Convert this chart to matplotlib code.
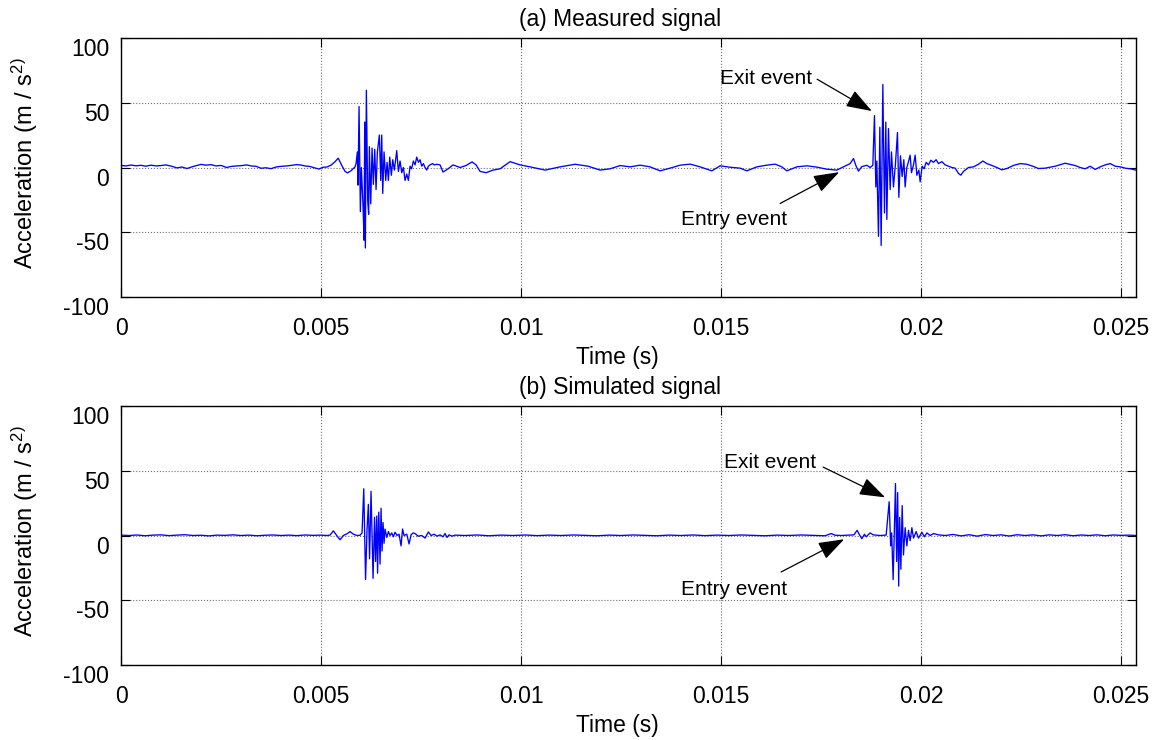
import numpy as np
import matplotlib
matplotlib.use("Agg")
import matplotlib.pyplot as plt

plt.rcParams["font.family"] = ["Liberation Sans", "DejaVu Sans"]
plt.rcParams["mathtext.fontset"] = "custom"
plt.rcParams["mathtext.rm"] = "Liberation Sans"
plt.rcParams["mathtext.it"] = "Liberation Sans:italic"

# ---- measured accelerometer signal (time in ms, acceleration in m/s^2) ----
measured_time_ms = [
    0.00, 0.12, 0.25, 0.38, 0.50, 0.62, 0.75, 0.88, 1.00, 1.12, 1.25, 1.40, 1.52, 1.65,
    1.78, 1.90, 2.00, 2.12, 2.25, 2.38, 2.50, 2.64, 2.75, 2.88, 3.00, 3.14, 3.25, 3.38,
    3.50, 3.62, 3.75, 3.88, 4.00, 4.14, 4.25, 4.38, 4.48, 4.60, 4.72, 4.85, 4.95, 5.05,
    5.15, 5.25, 5.35, 5.43, 5.52, 5.60, 5.66, 5.75, 5.85,
    5.875, 5.908, 5.925, 5.950, 5.983, 6.008, 6.050, 6.075, 6.092, 6.108, 6.133, 6.167,
    6.190, 6.208, 6.242, 6.275, 6.308, 6.342, 6.375, 6.408, 6.458, 6.492, 6.517, 6.542,
    6.575, 6.617, 6.650, 6.683, 6.717, 6.758, 6.792, 6.833, 6.892, 6.933, 6.975, 7.017,
    7.058, 7.100, 7.142, 7.183, 7.225, 7.263, 7.308, 7.350, 7.392, 7.433, 7.475, 7.517,
    7.558, 7.600, 7.642, 7.683, 7.725, 7.783, 7.833, 7.892, 7.975, 8.050, 8.175, 8.300,
    8.475, 8.625, 8.775, 8.875, 8.975, 9.125, 9.300, 9.475,
    9.725, 9.975, 10.225, 10.600, 10.975, 11.350, 11.675, 11.975, 12.225, 12.475, 12.725,
    12.975, 13.225, 13.475, 13.725, 13.975, 14.225, 14.475, 14.767, 14.975, 15.225,
    15.475, 15.642, 15.892, 16.142, 16.350, 16.517, 16.642, 16.892, 17.142, 17.392,
    17.642, 17.892, 18.058, 18.225, 18.308, 18.375, 18.433, 18.517, 18.642, 18.725,
    18.792,
    18.833, 18.867, 18.892, 18.933, 18.967, 19.000, 19.042, 19.083, 19.117, 19.142,
    19.183, 19.225, 19.258, 19.308, 19.358, 19.408, 19.442, 19.483, 19.525, 19.567,
    19.600, 19.642, 19.683, 19.725, 19.758, 19.808, 19.850, 19.892, 19.942, 19.975,
    20.025, 20.075, 20.125, 20.183, 20.242, 20.308, 20.375, 20.433, 20.517, 20.600,
    20.683, 20.767, 20.850, 20.933, 20.992, 21.058, 21.183, 21.308, 21.433, 21.542,
    21.642, 21.767, 21.892, 22.017, 22.142, 22.308, 22.475, 22.642, 22.808, 22.933,
    23.100, 23.350, 23.600, 23.850, 23.975, 24.100, 24.225, 24.350, 24.475, 24.600,
    24.725, 24.850, 24.975, 25.100, 25.225, 25.367,
]
measured_accel = [
    1.6, 1.2, 1.9, 1.3, 1.7, 1.0, 1.8, 1.2, 1.5, 2.0, 1.1, -0.3, 0.4, -0.8,
    0.6, 1.6, 2.4, 1.8, 2.2, 1.2, 1.6, 0.0, 0.8, 1.2, 1.4, 2.0, 1.2, 0.9,
    -0.6, -0.2, -0.9, 0.4, 0.9, 1.2, 1.6, 2.2, 2.0, 1.2, 0.8, -0.4, -1.2, 0.2,
    0.4, 1.8, 4.5, 7.2, 1.5, -3.0, -4.2, -2.5, 0.5,
    3.0, 12.0, -13.6, 47.0, -34.0, 0.0, -30.0, -56.0, 35.0, -62.0, 59.5, -26.0,
    -36.0, 16.0, -28.0, 15.0, -13.0, 14.0, -17.0, 12.0, 25.0, -10.0, 25.0, -20.0,
    12.0, -10.0, 4.0, -10.0, 8.0, -6.0, 6.0, -2.0, 13.0, -3.0, 5.0, -4.0,
    0.0, -10.0, -5.0, -10.0, 1.0, -1.0, 5.0, 2.0, 8.0, 4.0, 6.0, 1.0,
    3.0, 0.0, -2.0, 1.0, 2.0, 3.0, 2.0, 2.5, 2.0, -3.5, -1.0, 2.0,
    0.0, 1.5, 4.3, 2.0, -3.0, -4.0, -2.0, -1.0,
    4.5, 2.0, 0.5, -2.0, 0.5, 2.5, 1.0, -2.0, -1.0, 1.5, 0.5,
    1.8, 0.5, -2.6, -0.5, 1.8, 2.6, 0.5, -2.6, 1.3, 0.2,
    -0.5, -2.6, 0.5, 1.8, 2.6, 0.5, -2.6, 0.5, 1.3, 0.3,
    -1.3, -2.0, 0.5, 3.0, 6.9, 1.0, -2.8, 0.7, 1.7, 0.0,
    1.7,
    40.0, -15.0, 5.0, -53.0, 31.0, -60.0, 64.0, -35.0, 35.0, -40.0,
    30.0, -17.0, 12.0, -15.0, 3.0, 27.0, -23.0, 9.0, -7.0, 6.0,
    -15.0, 0.0, 4.5, 9.5, -4.0, 2.0, 9.5, -6.0, -2.0, -11.0,
    1.0, -1.0, 4.0, 2.0, 5.6, 4.0, 6.0, 3.0, 4.5, 2.0,
    1.0, 0.0, -0.5, -4.6, -5.9, -3.0, 0.0, 0.5, 2.5, 5.0,
    3.0, 1.6, 0.0, -1.8, -0.8, 1.6, 3.0, 2.5, 0.8, -0.8,
    -0.5, 1.0, 3.3, 1.5, 0.0, -1.0, 1.0, -1.5, 0.5, 2.0,
    3.0, 1.0, 0.5, -0.5, -1.0, -2.0,
]

# ---- simulated signal ----
simulated_time_ms = [
    0.0, 0.2, 0.4, 0.6, 0.8, 1.0, 1.2, 1.4, 1.6, 1.8, 2.0, 2.2, 2.4, 2.6, 2.8, 3.0,
    3.2, 3.4, 3.6, 3.8, 4.0, 4.2, 4.4, 4.6, 4.8, 5.0, 5.15, 5.225, 5.308, 5.392,
    5.475, 5.558, 5.642, 5.725, 5.808, 5.900, 5.975,
    6.025, 6.068, 6.113, 6.150, 6.183, 6.213, 6.250, 6.300, 6.338, 6.363, 6.393,
    6.413, 6.443, 6.475, 6.500, 6.525, 6.550, 6.575, 6.600, 6.643, 6.683, 6.725,
    6.768, 6.808, 6.850, 6.900, 6.950, 7.000, 7.038, 7.075, 7.143, 7.200, 7.250,
    7.300, 7.350, 7.425, 7.518, 7.600, 7.683, 7.750, 7.825, 7.900, 7.975, 8.050,
    8.100, 8.150, 8.200, 8.275, 8.350,
    8.6, 8.9, 9.2, 9.5, 9.8, 10.1, 10.4, 10.7, 11.0, 11.3, 11.6, 11.9, 12.2, 12.5,
    12.8, 13.1, 13.4, 13.7, 14.0, 14.3, 14.6, 14.9, 15.2, 15.5, 15.8, 16.1, 16.4,
    16.7, 17.0, 17.3, 17.6, 17.75, 17.85, 18.0, 18.2, 18.32,
    18.400, 18.450, 18.517, 18.583, 18.625, 18.725, 18.800, 18.975, 19.125,
    19.200, 19.238, 19.263, 19.300, 19.358, 19.388, 19.413, 19.438, 19.463, 19.493,
    19.525, 19.558, 19.600, 19.643, 19.683, 19.725, 19.768, 19.808, 19.875, 19.933,
    20.018, 20.083, 20.143, 20.225, 20.308, 20.433, 20.600,
    20.8, 21.0, 21.2, 21.4, 21.6, 21.8, 22.0, 22.2, 22.4, 22.6, 22.8, 23.0, 23.2,
    23.4, 23.6, 23.8, 24.0, 24.2, 24.4, 24.6, 24.8, 25.0, 25.2, 25.37,
]
simulated_accel = [
    0.3, 0.0, 0.4, -0.2, 0.3, 0.5, -0.1, 0.3, 0.6, 0.0, 0.2, -0.3, 0.3, 0.1, 0.5, 0.0,
    0.3, -0.2, 0.2, 0.4, 0.0, 0.3, -0.1, 0.4, 0.1, 0.3, 0.0, 0.3, 3.6, 0.0,
    -3.3, 0.0, 1.2, 3.0, 1.0, 0.0, 0.2,
    2.0, 36.0, -34.0, 5.0, 24.0, -18.0, 34.0, -33.0, 14.0, -20.0, 15.0,
    -29.0, 18.0, -22.0, 21.0, -12.0, 10.0, -6.0, 5.0, -1.5, 3.0, 0.0,
    2.0, -1.0, 2.5, 0.0, 1.0, -8.0, 5.0, 0.0, 1.0, -6.5, 0.5,
    2.0, 1.5, -0.5, 0.0, -2.0, 2.7, 0.0, 1.0, -0.5, 0.5, -1.0,
    1.5, -1.5, 0.5, -0.5, 0.3,
    0.0, 0.4, -0.2, 0.3, 0.0, 0.4, -0.1, 0.3, 0.0, 0.4, 0.1, -0.2, 0.3, 0.0,
    0.4, 0.1, -0.2, 0.3, 0.0, 0.4, -0.1, 0.3, 0.0, 0.4, 0.1, -0.2, 0.3,
    0.0, 0.4, 0.1, -0.2, 1.5, 0.2, 0.0, 0.3, 0.5,
    4.0, 1.0, -2.5, 1.0, -1.0, 2.0, 0.5, 0.0, 0.3,
    26.0, -8.0, 2.0, -34.0, 40.0, -20.0, 33.0, -39.0, 14.0, -26.0,
    23.0, -15.0, 6.0, -8.0, 4.0, -4.0, 6.0, -2.0, 3.0, -2.0,
    2.5, -1.0, 2.0, 0.0, 1.5, 0.5, 0.0,
    0.8, -0.3, 0.6, -0.5, 0.7, 0.0, 0.5, -0.4, 0.6, 0.0, 0.5, -0.3, 0.5,
    0.0, 0.6, -0.2, 0.4, 0.0, 0.5, -0.2, 0.4, 0.1, 0.3, 0.0,
]

panel_titles = ["(a) Measured signal", "(b) Simulated signal"]
x_ticks = [0, 0.005, 0.01, 0.015, 0.02, 0.025]
x_tick_labels = ["0", "0.005", "0.01", "0.015", "0.02", "0.025"]
y_ticks = [-100, -50, 0, 50, 100]
y_tick_labels = ["-100", "-50", "0", "50", "100"]

# annotation anchors per panel: text positions and arrows (tail, head)
exit_text = [(0.016125, 64.6), (0.016225, 51.7)]
exit_arrow = [((0.01740, 68.0), (0.018767, 43.5)), ((0.01755, 52.7), (0.01910, 29.4))]
entry_text = [(0.01532, -44.4), (0.01532, -45.8)]
entry_arrow = [((0.016475, -27.7), (0.01795, -3.6)), ((0.01650, -28.1), (0.018075, -2.9))]

W, H = 1163, 740
fig = plt.figure(figsize=(W / 100, H / 100), dpi=100)

axes_boxes = [
    (121 / W, 1 - 297.3 / H, 1015 / W, 259.6 / H),
    (121 / W, 1 - 665.3 / H, 1015 / W, 259.6 / H),
]

series = [
    (np.asarray(measured_time_ms) * 1e-3, np.asarray(measured_accel)),
    (np.asarray(simulated_time_ms) * 1e-3, np.asarray(simulated_accel)),
]

FS = 16.5
for i, box in enumerate(axes_boxes):
    ax = fig.add_axes(box)
    t, a = series[i]
    ax.plot(t, a, color="#0000ff", lw=0.95)
    ax.set_xlim(0, 0.02537)
    ax.set_ylim(-100, 100)
    ax.set_xticks(x_ticks)
    ax.set_xticklabels(x_tick_labels)
    ax.set_yticks(y_ticks)
    ax.set_yticklabels(y_tick_labels)
    ax.tick_params(direction="in", length=6.5, width=0.8, top=True, right=True,
                   labelsize=FS)
    ax.tick_params(axis="x", pad=14)
    ax.tick_params(axis="y", pad=8.5)
    for lab in ax.get_yticklabels():
        lab.set_verticalalignment("top")
    for sp in ax.spines.values():
        sp.set_linewidth(1.0)
    ax.grid(True, linestyle=":", color="#6f6f6f", linewidth=0.8)
    ax.set_axisbelow(True)

    ax.text(0.4916, 1.045, panel_titles[i], transform=ax.transAxes,
            ha="center", va="baseline", fontsize=FS)
    ax.set_xlabel("Time (s)", fontsize=FS)
    ax.xaxis.set_label_coords(0.489, -0.188)
    ax.set_ylabel(r"Acceleration (m / s$^{\mathrm{2)}}$", fontsize=FS + 0.5)
    ax.yaxis.set_label_coords(-0.080, 0.515)

    ax.text(*exit_text[i], "Exit event", ha="center", va="baseline", fontsize=15)
    ax.text(*entry_text[i], "Entry event", ha="center", va="baseline", fontsize=15)
    for tail, head in (exit_arrow[i], entry_arrow[i]):
        ax.annotate("", xy=head, xytext=tail,
                    arrowprops=dict(arrowstyle="-|>,head_length=0.8,head_width=0.28",
                                    color="black", lw=0.9, shrinkA=0, shrinkB=0,
                                    mutation_scale=20))

fig.savefig("out.png", dpi=100)
